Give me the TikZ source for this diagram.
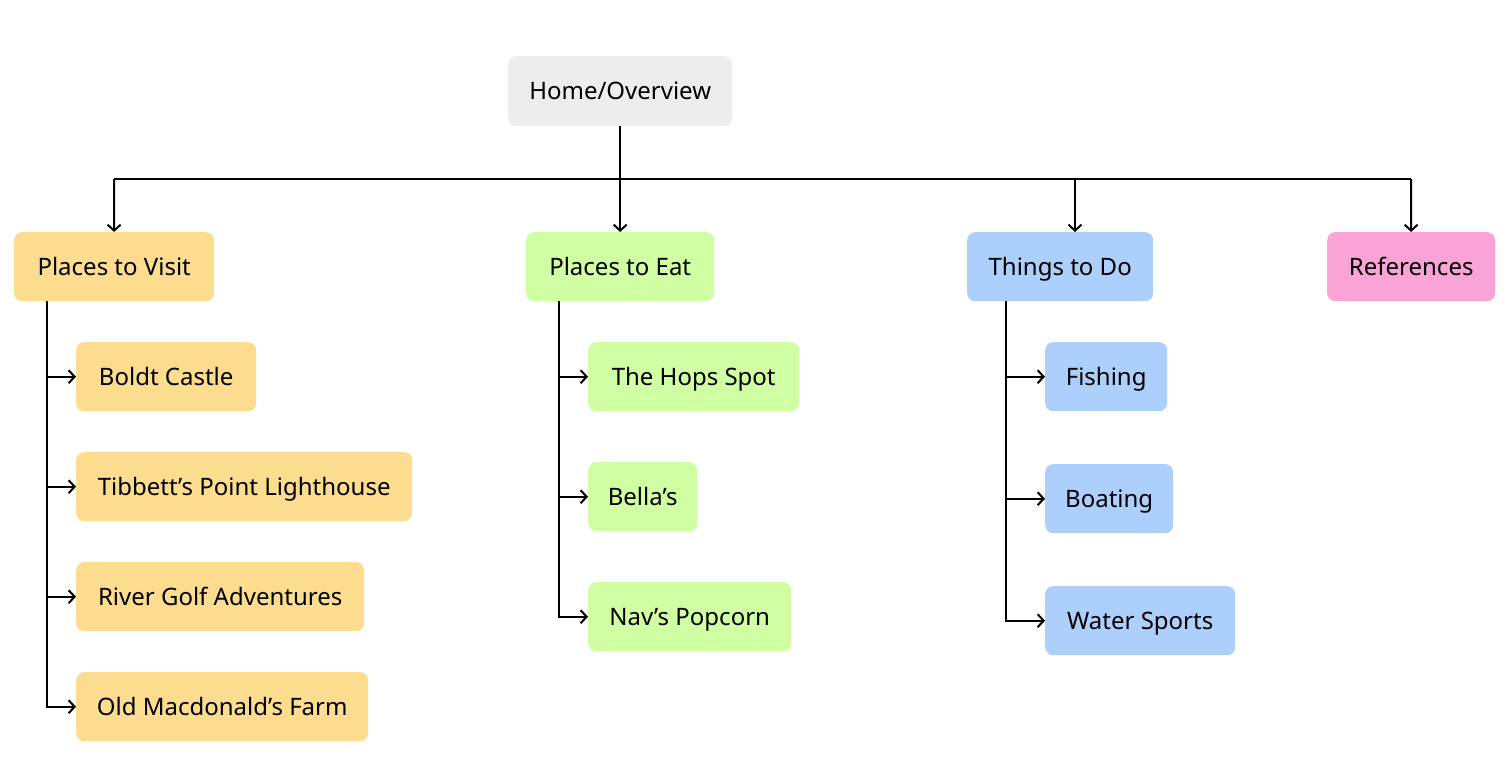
\documentclass[tikz,border=0pt]{standalone}
\usepackage{fontspec}
\setmainfont{Noto Sans}
\usetikzlibrary{arrows.meta}
\definecolor{cgray}{HTML}{EDEDED}
\definecolor{cyel}{HTML}{FCDD8F}
\definecolor{cgrn}{HTML}{D0FEA3}
\definecolor{cblu}{HTML}{ADCFFC}
\definecolor{cpnk}{HTML}{FAA3D7}
\tikzset{
  box/.style={rectangle, rounded corners=8pt, draw=none, anchor=north west,
    minimum height=69pt, inner sep=0pt, font=\fontsize{24}{28}\selectfont, text=black,
    text height=17pt, text depth=0pt},
  conn/.style={line width=2pt, draw=black},
  arr/.style={conn, -{Straight Barb[length=6pt,width=13pt,line width=2pt]}},
}
\begin{document}
\begin{tikzpicture}[x=1pt,y=-1pt]
\useasboundingbox (0,0) rectangle (1508,776);
\fill[white] (0,0) rectangle (1508,776);
% nodes
\node[box, fill=cgray, minimum width=224pt, minimum height=70pt] (home) at (508,56) {Home/Overview};
\node[box, fill=cyel, minimum width=200pt] (visit) at (14,232) {Places to Visit};
\node[box, fill=cgrn, minimum width=188pt] (eat) at (526,232) {Places to Eat};
\node[box, fill=cblu, minimum width=186pt] (todo) at (967,232) {Things to Do};
\node[box, fill=cpnk, minimum width=168pt] (refs) at (1327,232) {References};
\node[box, fill=cyel, minimum width=180pt] (boldt) at (76,342) {Boldt Castle};
\node[box, fill=cyel, minimum width=336pt] (tib) at (76,452) {Tibbett’s Point Lighthouse};
\node[box, fill=cyel, minimum width=288pt] (river) at (76,562) {River Golf Adventures};
\node[box, fill=cyel, minimum width=292pt] (old) at (76,672) {Old Macdonald’s Farm};
\node[box, fill=cgrn, minimum width=211pt] (hops) at (588,342) {The Hops Spot};
\node[box, fill=cgrn, minimum width=109pt] (bella) at (588,462) {Bella’s};
\node[box, fill=cgrn, minimum width=203pt] (nav) at (588,582) {Nav’s Popcorn};
\node[box, fill=cblu, minimum width=122pt] (fish) at (1045,342) {Fishing};
\node[box, fill=cblu, minimum width=128pt] (boat) at (1045,464) {Boating};
\node[box, fill=cblu, minimum width=190pt] (water) at (1045,586) {Water Sports};
% top level connectors
\coordinate (busL) at (114,179);
\coordinate (busR) at (1411,179);
\coordinate (busT) at (1075,179);
\draw[conn] (busL) -- (busR);
\draw[arr] (home) -- (eat);
\draw[arr] (busL) -- (visit);
\draw[arr] (busT) -- (busT |- todo.north);
\draw[arr] (busR) -- (refs);
% visit children
\coordinate (v0) at (47,301);
\draw[arr] (v0) |- (old.west);
\draw[arr] (v0 |- boldt.west) -- (boldt.west);
\draw[arr] (v0 |- tib.west) -- (tib.west);
\draw[arr] (v0 |- river.west) -- (river.west);
% eat children
\coordinate (e0) at (559,301);
\draw[arr] (e0) |- (nav.west);
\draw[arr] (e0 |- hops.west) -- (hops.west);
\draw[arr] (e0 |- bella.west) -- (bella.west);
% todo children
\coordinate (t0) at (1006,301);
\draw[arr] (t0) |- (water.west);
\draw[arr] (t0 |- fish.west) -- (fish.west);
\draw[arr] (t0 |- boat.west) -- (boat.west);
\end{tikzpicture}
\end{document}
